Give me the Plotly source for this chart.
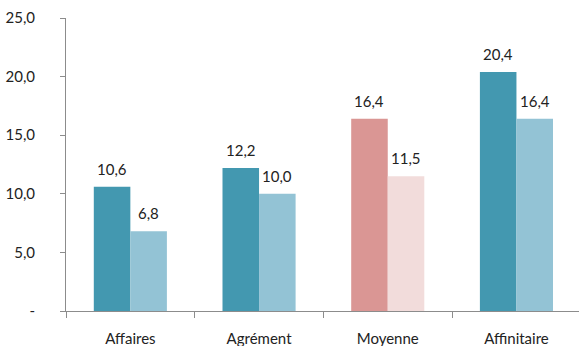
import plotly.graph_objects as go

categories = ["Affaires", "Agrément", "Moyenne", "Affinitaire"]
series_a = [10.6, 12.2, 16.4, 20.4]
series_b = [6.8, 10.0, 11.5, 16.4]
colors_a = ["#4398B0", "#4398B0", "#DA9694", "#4398B0"]
colors_b = ["#93C3D5", "#93C3D5", "#F2DCDB", "#93C3D5"]
y_ticks = [0, 5, 10, 15, 20, 25]
y_tick_text = ["-", "5,0", "10,0", "15,0", "20,0", "25,0"]

font = dict(family="Lato, 'Open Sans', sans-serif", size=15, color="#222222")
axis_color = "#8C8C8C"

fig = go.Figure()
fig.add_trace(go.Bar(x=categories, y=series_a, marker=dict(color=colors_a, line=dict(width=0))))
fig.add_trace(go.Bar(x=categories, y=series_b, marker=dict(color=colors_b, line=dict(width=0))))

# value labels above each bar
half = 0.142
for i, (a, b) in enumerate(zip(series_a, series_b)):
    for xpos, val in ((i - half, a), (i + half, b)):
        fig.add_annotation(
            x=xpos, y=val, xref="x", yref="y",
            text=f"{val:.1f}".replace(".", ","),
            showarrow=False, yanchor="bottom", yshift=7,
            font=font,
        )

fig.update_layout(
    width=579, height=346,
    margin=dict(l=66, r=0, t=18, b=35),
    paper_bgcolor="white", plot_bgcolor="white",
    barmode="group", bargap=0.432, bargroupgap=0,
    showlegend=False, font=font,
)
fig.update_xaxes(
    type="category", range=[-0.5, 3.486],
    showline=True, linecolor=axis_color, linewidth=1,
    ticks="outside", tickson="boundaries", ticklen=6, tickcolor=axis_color,
    ticklabelstandoff=14, showgrid=False, zeroline=False,
)
fig.update_yaxes(
    range=[0, 25], tickvals=y_ticks, ticktext=y_tick_text,
    showline=True, linecolor=axis_color, linewidth=1,
    ticks="outside", ticklen=5, tickcolor=axis_color,
    ticklabelstandoff=22, showgrid=False, zeroline=False,
)

fig.write_html("out.html")
